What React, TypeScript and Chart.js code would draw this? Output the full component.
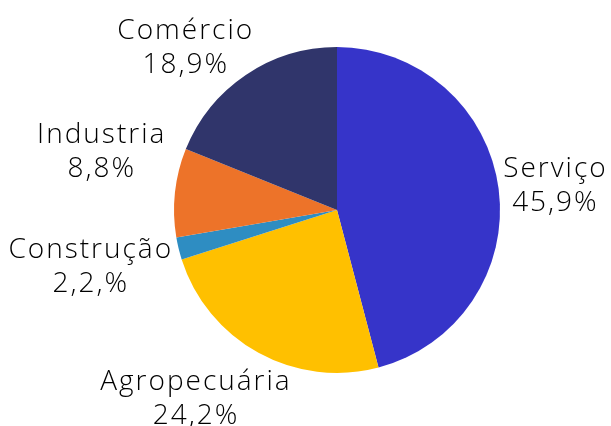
import React, { useEffect, useRef } from "react";
import { Chart, registerables } from "chart.js";

Chart.register(...registerables);

const categories = ["Serviço", "Agropecuária", "Construção", "Industria", "Comércio"];
const values = [45.9, 24.2, 2.2, 8.8, 18.9];
const valueLabels = ["45,9%", "24,2%", "2,2,%", "8,8%", "18,9%"];
const colors = ["#3634C9", "#FFC000", "#2E8DC2", "#ED7329", "#30356B"];
const labelNudges = [
  [0, 0],
  [-14, 10],
  [-3, 7],
  [-4, -38],
  [-19, 3],
];

const FONT_SIZE = 28;
const FONT = `300 ${FONT_SIZE}px 'Open Sans'`;
const LINE_H = 34;
const CAP_HALF = FONT_SIZE * 0.357;

const outsideLabels = {
  id: "outsideLabels",
  afterDraw(chart: any) {
    const ctx = chart.ctx;
    const meta = chart.getDatasetMeta(0);
    ctx.save();
    ctx.font = FONT;
    (ctx as any).letterSpacing = "2px";
    ctx.fillStyle = "#000";
    ctx.textAlign = "center";
    ctx.textBaseline = "alphabetic";
    meta.data.forEach((arc: any, i: number) => {
      const { x, y, startAngle, endAngle, outerRadius } = arc.getProps(
        ["x", "y", "startAngle", "endAngle", "outerRadius"],
        true
      );
      const mid = (startAngle + endAngle) / 2;
      const dx = Math.cos(mid);
      const dy = Math.sin(mid);
      const l1 = categories[i];
      const l2 = valueLabels[i];
      const w = Math.max(ctx.measureText(l1).width, ctx.measureText(l2).width);
      const h = LINE_H * 2;
      const px = x + dx * (outerRadius + 5);
      const py = y + dy * (outerRadius + 5);
      const cx = px + (dx * w) / 2 + labelNudges[i][0];
      const cy = py + (dy * h) / 2 + labelNudges[i][1];
      ctx.fillText(l1, cx, cy - LINE_H / 2 + CAP_HALF);
      ctx.fillText(l2, cx, cy + LINE_H / 2 + CAP_HALF);
    });
    ctx.restore();
  },
};

export default function App() {
  const ref = useRef<HTMLCanvasElement>(null);
  useEffect(() => {
    document.body.style.margin = "0";
    const chart = new Chart(ref.current!, {
      type: "pie",
      data: {
        labels: categories,
        datasets: [
          {
            data: values,
            backgroundColor: colors,
            borderWidth: 0,
          },
        ],
      },
      options: {
        responsive: false,
        animation: false,
        layout: { padding: { left: 174, right: 111, top: 47, bottom: 53 } },
        plugins: {
          legend: { display: false },
          tooltip: { enabled: false },
        },
      },
      plugins: [outsideLabels],
    });
    return () => chart.destroy();
  }, []);
  return (
    <div style={{ width: 611, height: 426, background: "#fff" }}>
      <canvas ref={ref} width={611} height={426} />
    </div>
  );
}
